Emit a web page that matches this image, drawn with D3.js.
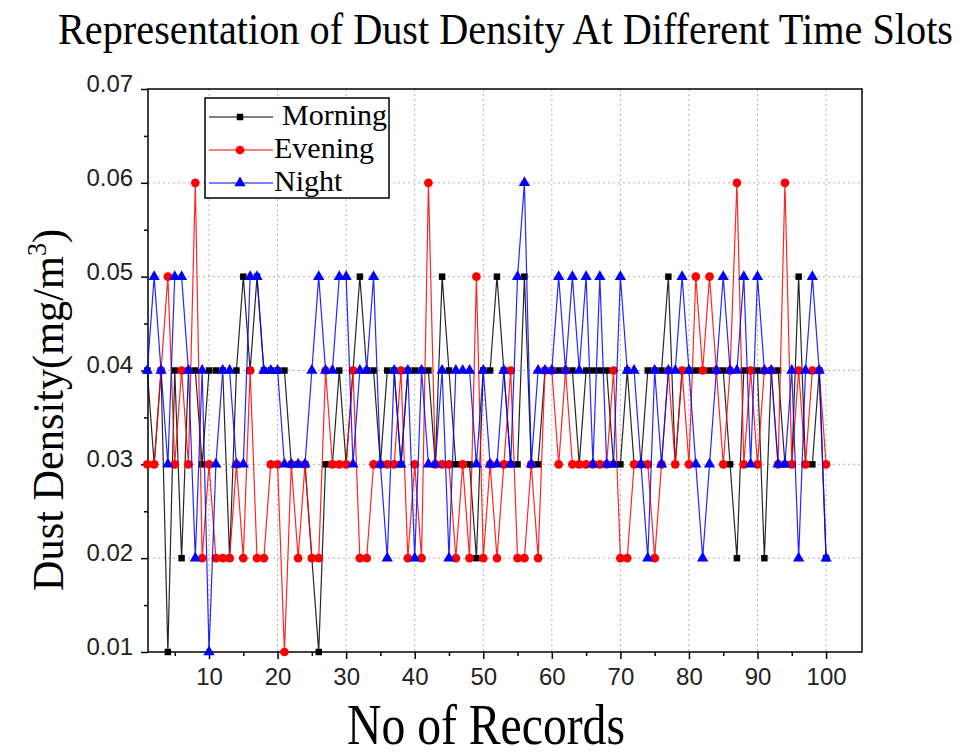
<!DOCTYPE html>
<html><head><meta charset="utf-8">
<script src="https://cdn.jsdelivr.net/npm/d3@7"></script>
<style>body{margin:0;background:#fff}svg{display:block}</style>
</head><body>
<svg id="c" width="964" height="756"></svg>
<script>
const records = d3.range(1, 101);
const morning = [0.04,0.03,0.04,0.01,0.04,0.02,0.04,0.04,0.03,0.04,
0.04,0.04,0.02,0.04,0.05,0.04,0.05,0.04,0.04,0.04,
0.04,0.03,0.03,0.03,0.02,0.01,0.03,0.03,0.04,0.03,
0.04,0.05,0.04,0.04,0.03,0.04,0.04,0.03,0.04,0.04,
0.04,0.04,0.03,0.05,0.04,0.03,0.03,0.03,0.02,0.04,
0.04,0.05,0.04,0.03,0.03,0.05,0.03,0.03,0.04,0.04,
0.04,0.04,0.04,0.03,0.04,0.04,0.04,0.04,0.03,0.03,
0.04,0.03,0.03,0.04,0.04,0.04,0.05,0.03,0.04,0.04,
0.04,0.04,0.04,0.04,0.04,0.03,0.02,0.04,0.04,0.04,
0.02,0.04,0.04,0.03,0.03,0.05,0.03,0.03,0.04,0.02];
const evening = [0.03,0.03,0.04,0.05,0.03,0.04,0.03,0.06,0.02,0.03,
0.02,0.02,0.02,0.03,0.02,0.04,0.02,0.02,0.03,0.03,
0.01,0.03,0.02,0.03,0.02,0.02,0.04,0.03,0.03,0.03,
0.04,0.02,0.02,0.03,0.03,0.03,0.03,0.04,0.02,0.03,
0.02,0.06,0.03,0.03,0.03,0.02,0.03,0.02,0.05,0.02,
0.03,0.02,0.03,0.04,0.02,0.02,0.03,0.02,0.04,0.04,
0.03,0.04,0.03,0.03,0.03,0.03,0.03,0.03,0.04,0.02,
0.02,0.03,0.03,0.03,0.02,0.03,0.04,0.03,0.04,0.03,
0.05,0.04,0.05,0.04,0.03,0.04,0.06,0.03,0.04,0.03,
0.04,0.04,0.03,0.06,0.03,0.04,0.03,0.04,0.04,0.03];
const night = [0.04,0.05,0.04,0.03,0.05,0.05,0.04,0.02,0.04,0.01,
0.03,0.04,0.04,0.03,0.03,0.05,0.05,0.04,0.04,0.04,
0.03,0.03,0.03,0.03,0.04,0.05,0.04,0.04,0.05,0.05,
0.03,0.04,0.04,0.05,0.03,0.02,0.04,0.03,0.04,0.02,
0.04,0.03,0.03,0.04,0.02,0.04,0.04,0.04,0.03,0.04,
0.03,0.03,0.04,0.03,0.05,0.06,0.03,0.04,0.04,0.04,
0.05,0.04,0.05,0.04,0.05,0.03,0.05,0.03,0.03,0.05,
0.04,0.04,0.03,0.02,0.04,0.03,0.04,0.04,0.05,0.04,
0.03,0.02,0.03,0.04,0.05,0.04,0.04,0.05,0.03,0.05,
0.04,0.04,0.03,0.03,0.04,0.02,0.04,0.05,0.04,0.02];
const seriesNames = ["Morning","Evening","Night"];
const seriesColors = ["#000000","#ff0000","#0000ff"];
const xTicks = [10,20,30,40,50,60,70,80,90,100];
const yTicks = [0.01,0.02,0.03,0.04,0.05,0.06,0.07];

const svg = d3.select("#c");
const L = 148, R = 862, T = 89, B = 652;
const x = d3.scaleLinear().domain([1.1, 105.24]).range([L, R]);
const y = d3.scaleLinear().domain([0.01, 0.07]).range([B, T]);
const serif = "'Liberation Serif','DejaVu Serif',serif";
const sans = "'Liberation Sans','DejaVu Sans',sans-serif";

// grid
svg.append("g").selectAll("line.gx").data(xTicks).join("line")
  .attr("x1", d => x(d)).attr("x2", d => x(d)).attr("y1", T).attr("y2", B)
  .attr("stroke", "#b0b0b0").attr("stroke-width", 1).attr("stroke-dasharray", "2,3");
svg.append("g").selectAll("line.gy").data(yTicks.slice(1, -1)).join("line")
  .attr("x1", L).attr("x2", R).attr("y1", d => y(d)).attr("y2", d => y(d))
  .attr("stroke", "#b0b0b0").attr("stroke-width", 1).attr("stroke-dasharray", "2,3");

// axes
const xAxis = d3.axisBottom(x).tickValues(xTicks).tickSize(7).tickFormat(d3.format("d"));
const xMinor = d3.axisBottom(x).tickValues(d3.range(5, 105, 10)).tickSize(4).tickFormat("");
const yAxis = d3.axisLeft(y).tickValues(yTicks).tickSize(7).tickFormat(d3.format(".2f"));
const yMinor = d3.axisLeft(y).tickValues(d3.range(0.015, 0.07, 0.01)).tickSize(4).tickFormat("");

function style(g) {
  g.select(".domain").remove();
  g.selectAll(".tick line").attr("stroke", "#000").attr("stroke-width", 1.5);
  g.selectAll(".tick text").attr("font-family", sans).attr("font-size", 24).attr("fill", "#222");
}
svg.append("g").attr("transform", `translate(0,${B})`).call(xAxis).call(style)
  .selectAll(".tick text").attr("dy", "0.95em");
svg.append("g").attr("transform", `translate(0,${B})`).call(xMinor).call(style);
svg.append("g").attr("transform", `translate(${L},0)`).call(yAxis).call(style)
  .selectAll(".tick text").attr("dx", "-0.2em").attr("dy", "0.1em");
svg.append("g").attr("transform", `translate(${L},0)`).call(yMinor).call(style);

// frame
svg.append("rect").attr("x", L).attr("y", T).attr("width", R - L).attr("height", B - T)
  .attr("fill", "none").attr("stroke", "#000").attr("stroke-width", 1.5);

// series
const allData = [morning, evening, night];
const line = d3.line().x((d, i) => x(records[i])).y(d => y(d));
const shapes = [d3.symbolSquare, d3.symbolCircle, d3.symbolTriangle];
const sizes = [42, 60, 55];
allData.forEach((vals, si) => {
  const g = svg.append("g");
  g.append("path").datum(vals).attr("d", line)
    .attr("fill", "none").attr("stroke", seriesColors[si]).attr("stroke-width", 1.2).attr("stroke-opacity", 0.85);
  g.selectAll("path.m").data(vals).join("path").attr("class", "m")
    .attr("transform", (d, i) => `translate(${x(records[i])},${y(d)})`)
    .attr("d", d3.symbol().type(shapes[si]).size(sizes[si]))
    .attr("fill", seriesColors[si]);
});

// legend
const lg = svg.append("g");
lg.append("rect").attr("x", 205).attr("y", 98).attr("width", 184).attr("height", 100)
  .attr("fill", "#fff").attr("stroke", "#000").attr("stroke-width", 1.5);
seriesNames.forEach((n, i) => {
  const yy = 117 + i * 33;
  lg.append("line").attr("x1", 209).attr("x2", 273).attr("y1", yy).attr("y2", yy)
    .attr("stroke", seriesColors[i]).attr("stroke-width", 1.2);
  lg.append("path").attr("transform", `translate(240,${yy})`)
    .attr("d", d3.symbol().type(shapes[i]).size(sizes[i])).attr("fill", seriesColors[i]);
  lg.append("text").attr("x", i === 0 ? 282 : 274).attr("y", yy + 8)
    .attr("font-family", serif).attr("font-size", 30).text(n);
});

// titles
svg.append("text").attr("transform", "translate(58,44) scale(1,1.18)")
  .attr("font-family", serif).attr("font-size", 38)
  .attr("textLength", 895).attr("lengthAdjust", "spacingAndGlyphs")
  .text("Representation  of  Dust  Density  At  Different  Time  Slots");
svg.append("text").attr("x", 486).attr("y", 744).attr("text-anchor", "middle")
  .attr("font-family", serif).attr("font-size", 56)
  .attr("textLength", 278).attr("lengthAdjust", "spacingAndGlyphs").text("No of Records");
const yl = svg.append("text").attr("transform", "translate(63,410) rotate(-90)")
  .attr("text-anchor", "middle").attr("font-family", serif).attr("font-size", 44)
  .attr("textLength", 362).attr("lengthAdjust", "spacingAndGlyphs");
yl.append("tspan").text("Dust  Density(mg/m");
yl.append("tspan").attr("font-size", 27).attr("dy", -17).text("3");
yl.append("tspan").attr("dy", 17).text(")");
</script>
</body></html>
